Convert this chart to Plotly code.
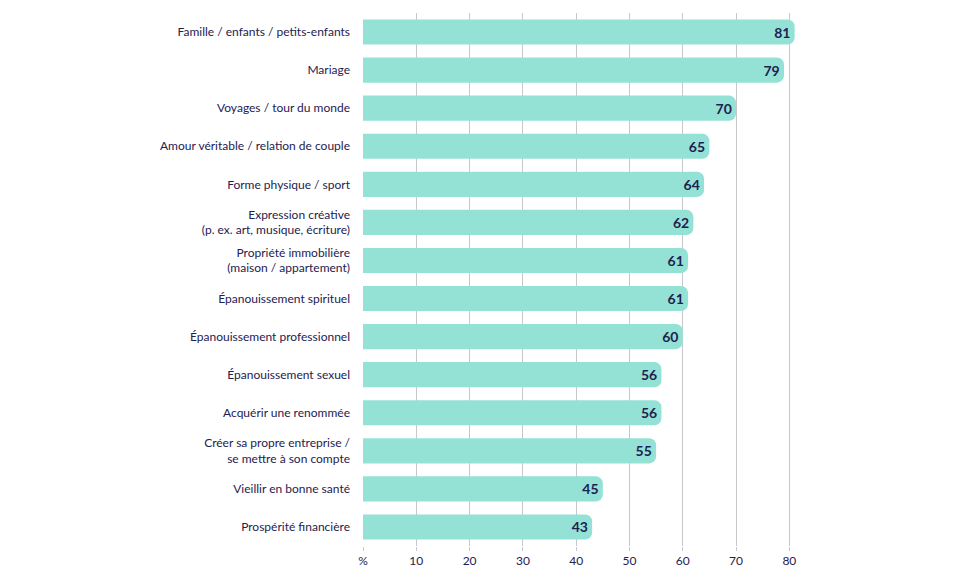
import plotly.graph_objects as go

categories = [
    "Famille / enfants / petits-enfants",
    "Mariage",
    "Voyages / tour du monde",
    "Amour véritable / relation de couple",
    "Forme physique / sport",
    "Expression créative<br>(p. ex. art, musique, écriture)",
    "Propriété immobilière<br>(maison / appartement)",
    "Épanouissement spirituel",
    "Épanouissement professionnel",
    "Épanouissement sexuel",
    "Acquérir une renommée",
    "Créer sa propre entreprise /<br>se mettre à son compte",
    "Vieillir en bonne santé",
    "Prospérité financière",
]
values = [81, 79, 70, 65, 64, 62, 61, 61, 60, 56, 56, 55, 45, 43]
tick_vals = [0, 10, 20, 30, 40, 50, 60, 70, 80]
tick_text = ["%", "10", "20", "30", "40", "50", "60", "70", "80"]

navy = "#1e2150"
fig = go.Figure(go.Bar(
    x=values, y=categories, orientation="h",
    marker=dict(color="#94e2d5", line=dict(width=0)),
    width=0.66,
    text=[str(v) for v in values], textposition="inside", insidetextanchor="end",
    textfont=dict(family="Lato", size=14, color=navy, weight="bold"),
    cliponaxis=False,
))
fig.update_layout(
    width=960, height=573,
    margin=dict(l=363, r=160, t=13, b=27),
    paper_bgcolor="white", plot_bgcolor="white",
    barcornerradius=7,
    showlegend=False,
    font=dict(family="Lato", color=navy),
    uniformtext=dict(mode="show", minsize=14),
)
fig.update_xaxes(
    range=[0, 82], tickvals=tick_vals, ticktext=tick_text,
    showgrid=True, gridcolor="#c8c8cc", gridwidth=1,
    ticks="outside", ticklen=4, tickcolor="#c8c8cc",
    tickfont=dict(size=12, color=navy), zeroline=False, showline=False,
    automargin=False, ticklabelstandoff=0,
)
fig.update_yaxes(
    autorange="reversed", ticks="", showgrid=False,
    tickfont=dict(size=12, color=navy), ticklabelstandoff=12,
    automargin=False,
)
fig.write_html("out.html")
